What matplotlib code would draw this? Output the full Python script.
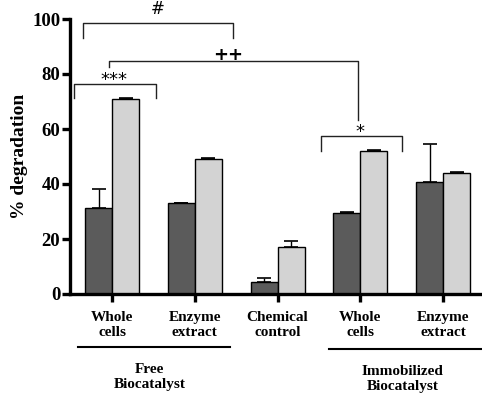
import matplotlib
matplotlib.use("Agg")
import matplotlib.pyplot as plt
import numpy as np

categories = ["Whole\ncells", "Enzyme\nextract", "Chemical\ncontrol", "Whole\ncells", "Enzyme\nextract"]
dark_values = [31.3, 33.0, 4.5, 29.4, 40.7]
dark_errors = [6.9, 0.0, 1.4, 0.5, 13.8]
light_values = [70.9, 49.2, 17.2, 51.9, 43.9]
light_errors = [0.3, 0.3, 2.1, 0.5, 0.3]
y_ticks = [0, 20, 40, 60, 80, 100]
group_labels = ["Free\nBiocatalyst", "Immobilized\nBiocatalyst"]

# significance brackets: (x_left, x_right, y_top, y_left_end, y_right_end, label, label_x, label_y)
brackets = [
    (-0.35, 1.46, 98.6, 93.0, 93.0, "#", 0.55, 103.6),
    (-0.04, 2.97, 84.7, 82.5, 63.3, "++", 1.40, 87.0),
    (-0.46, 0.53, 76.4, 71.3, 71.3, "***", 0.02, 78.0),
    (2.53, 3.50, 57.5, 52.0, 52.0, "*", 2.99, 59.0),
]

fig = plt.figure(figsize=(4.82, 3.94), dpi=100)
ax = fig.add_axes([70/482, 1-294/394, 1-70/482, (294-19)/394])

x = np.arange(len(categories))
w = 0.326
dark_color = "#5b5b5b"
light_color = "#d3d3d3"
ax.bar(x - w/2, dark_values, w, color=dark_color, edgecolor="black", linewidth=1.0, zorder=2)
ax.bar(x + w/2, light_values, w, color=light_color, edgecolor="black", linewidth=1.0, zorder=2)
ax.errorbar(x - w/2, dark_values, yerr=[np.zeros(5), dark_errors], fmt="none", ecolor="black",
            elinewidth=1.0, capsize=5, capthick=1.2, zorder=1)
ax.errorbar(x + w/2, light_values, yerr=[np.zeros(5), light_errors], fmt="none", ecolor="black",
            elinewidth=1.0, capsize=5, capthick=1.2, zorder=1)

ax.set_xlim(-0.508, 4.47)
ax.set_ylim(0, 100)
ax.set_yticks(y_ticks)
ax.set_xticks(x)
ax.set_xticklabels([])
serif = "Liberation Serif"
ax.set_yticklabels([str(t) for t in y_ticks], fontsize=13.5, fontweight="bold", family=serif)
for s in ["top", "right"]:
    ax.spines[s].set_visible(False)
for s in ["left", "bottom"]:
    ax.spines[s].set_linewidth(2.4)
ax.tick_params(axis="both", width=2.4, length=6, direction="out")
ax.tick_params(axis="y", pad=1)
ax.set_ylabel("% degradation", fontsize=14, fontweight="bold", family=serif, labelpad=3)

for xi, lab in zip(x, categories):
    ax.text(xi, -6.3, lab, ha="center", va="top", fontsize=11, fontweight="bold",
            family=serif, linespacing=1.2, clip_on=False)

# group underlines and labels
ax.plot([-0.41, 1.43], [-19.3, -19.3], color="black", lw=1.5, clip_on=False)
ax.plot([2.62, 4.47], [-20.0, -20.0], color="black", lw=1.5, clip_on=False)
ax.text(0.45, -25, group_labels[0], ha="center", va="top", fontsize=11, fontweight="bold",
        family=serif, linespacing=1.2, clip_on=False)
ax.text(3.51, -25.7, group_labels[1], ha="center", va="top", fontsize=11, fontweight="bold",
        family=serif, linespacing=1.2, clip_on=False)

for xl, xr, yt, yl, yr, lab, lx, ly in brackets:
    ax.plot([xl, xl, xr, xr], [yl, yt, yt, yr], color="#222222", lw=1.0, clip_on=False)
    ax.text(lx, ly, lab, ha="center", va="center", fontsize=13 if lab != "#" else 12,
            fontweight="bold" if lab == "++" else "normal", clip_on=False)

fig.savefig("out.png", dpi=100)
